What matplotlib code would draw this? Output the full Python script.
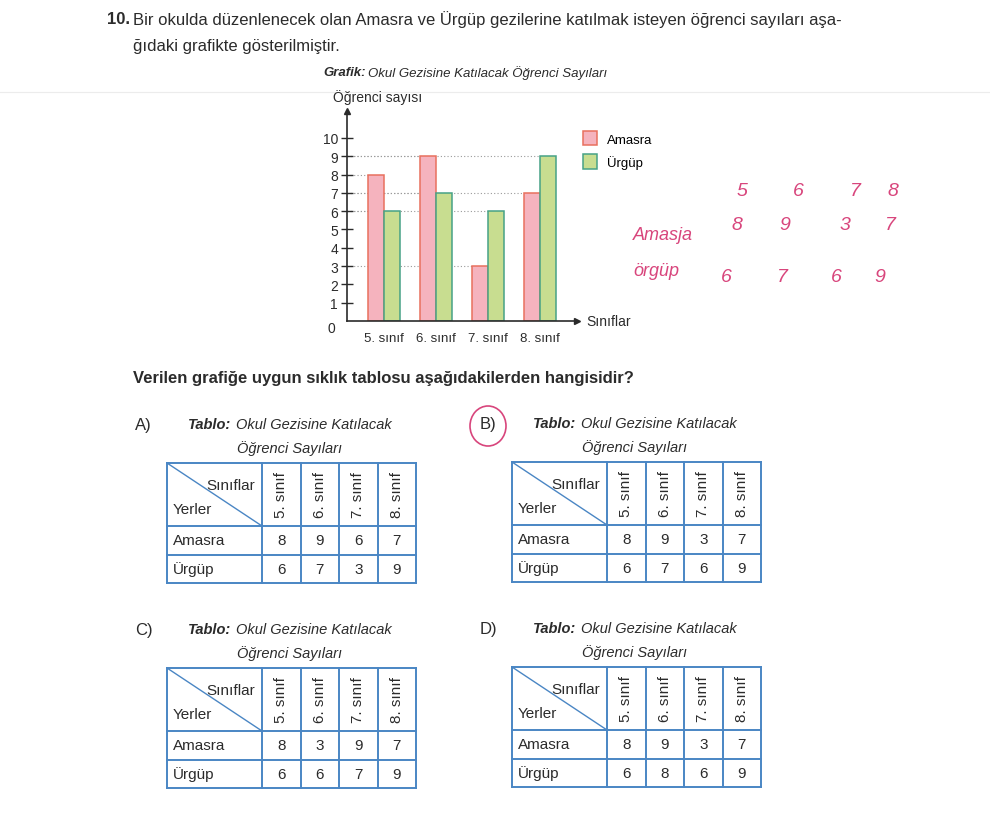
import matplotlib as mat
mat.use('Agg')
import matplotlib.pyplot as plt
from matplotlib.patches import Ellipse

plt.rcParams['font.family'] = ['Liberation Sans', 'DejaVu Sans']

W, H = 990, 828

# grafik verisi
siniflar = ['5. sınıf', '6. sınıf', '7. sınıf', '8. sınıf']
amasra = [8, 9, 3, 7]
urgup = [6, 7, 6, 9]
y_ticks = list(range(1, 11))

# seceneklerdeki tablolar (A, B, C, D)
secenekler = ['A)', 'B)', 'C)', 'D)']
tablo_amasra = [[8, 9, 6, 7], [8, 9, 3, 7], [8, 3, 9, 7], [8, 9, 3, 7]]
tablo_urgup = [[6, 7, 3, 9], [6, 7, 6, 9], [6, 6, 7, 9], [6, 8, 6, 9]]

# el yazisi notlar
not_sinif = ['5', '6', '7', '8']
not_amasra = ['8', '9', '3', '7']
not_urgup = ['6', '7', '6', '9']

PEMBE = '#f5b3be'
PEMBE_KENAR = '#e8705e'
YESIL = '#c8dd90'
YESIL_KENAR = '#46a286'
MAVI = '#4a86c4'
KALEM = '#d8457c'
KOYU = '#2b2b2b'


def tablo(page, x0, y0, harf, hx, ams, urg):
    cols = [x0, x0 + 95, x0 + 133.5, x0 + 172, x0 + 210.5, x0 + 249]
    rows = [y0, y0 + 63, y0 + 92, y0 + 120]
    for x in cols:
        page.plot([x, x], [rows[0], rows[-1]], color=MAVI, lw=1.4, solid_capstyle='projecting')
    for y in rows:
        page.plot([cols[0], cols[-1]], [y, y], color=MAVI, lw=1.4, solid_capstyle='projecting')
    page.plot([cols[0], cols[1]], [rows[0], rows[1]], color=MAVI, lw=1.0)
    page.text(cols[1] - 7, rows[0] + 22, 'Sınıflar', ha='right', va='center', fontsize=11, color=KOYU)
    page.text(cols[0] + 6, rows[0] + 46, 'Yerler', ha='left', va='center', fontsize=11, color=KOYU)
    page.text(cols[0] + 6, (rows[1] + rows[2]) / 2, 'Amasra', ha='left', va='center', fontsize=11, color=KOYU)
    page.text(cols[0] + 6, (rows[2] + rows[3]) / 2, 'Ürgüp', ha='left', va='center', fontsize=11, color=KOYU)
    for i, s in enumerate(siniflar):
        cx = (cols[i + 1] + cols[i + 2]) / 2
        page.text(cx, (rows[0] + rows[1]) / 2, s, rotation=90, ha='center', va='center', fontsize=11, color=KOYU)
        page.text(cx, (rows[1] + rows[2]) / 2, str(ams[i]), ha='center', va='center', fontsize=11, color=KOYU)
        page.text(cx, (rows[2] + rows[3]) / 2, str(urg[i]), ha='center', va='center', fontsize=11, color=KOYU)
    # baslik
    ty = y0 - 39
    page.text(hx, ty + 1, harf, ha='left', va='center', fontsize=12, color=KOYU)
    page.text(x0 + 21, ty, 'Tablo:', ha='left', va='center', fontsize=10.5,
              fontweight='bold', style='italic', color=KOYU)
    page.text(x0 + 69, ty, 'Okul Gezisine Katılacak', ha='left', va='center', fontsize=10.5,
              style='italic', color=KOYU)
    page.text(x0 + 123, ty + 24, 'Öğrenci Sayıları', ha='center', va='center', fontsize=10.5,
              style='italic', color=KOYU)


def main():
    fig = plt.figure(figsize=(9.9, 8.28), dpi=100)
    page = fig.add_axes([0, 0, 1, 1])
    page.set_xlim(0, W)
    page.set_ylim(H, 0)
    page.axis('off')

    # soru metni
    page.text(107, 20, '10.', ha='left', va='center', fontsize=12, fontweight='bold', color=KOYU)
    page.text(133, 20, 'Bir okulda düzenlenecek olan Amasra ve Ürgüp gezilerine katılmak isteyen öğrenci sayıları aşa-',
              ha='left', va='center', fontsize=12, color=KOYU)
    page.text(133, 47, 'ğıdaki grafikte gösterilmiştir.', ha='left', va='center', fontsize=12, color=KOYU)
    page.plot([0, W], [93, 93], color='#ececec', lw=0.8)

    page.text(323, 73, 'Grafik:', ha='left', va='center', fontsize=9.5, fontweight='bold', style='italic', color=KOYU)
    page.text(368, 73, 'Okul Gezisine Katılacak Öğrenci Sayıları', ha='left', va='center', fontsize=9.5,
              style='italic', color=KOYU)

    page.text(133, 379, 'Verilen grafiğe uygun sıklık tablosu aşağıdakilerden hangisidir?',
              ha='left', va='center', fontsize=12, fontweight='bold', color=KOYU)

    # tablolar
    tablo(page, 167, 464, secenekler[0], 135, tablo_amasra[0], tablo_urgup[0])
    tablo(page, 512, 463, secenekler[1], 480, tablo_amasra[1], tablo_urgup[1])
    tablo(page, 167, 669, secenekler[2], 135, tablo_amasra[2], tablo_urgup[2])
    tablo(page, 512, 668, secenekler[3], 480, tablo_amasra[3], tablo_urgup[3])
    page.add_patch(Ellipse((488, 427), 36, 40, fill=False, edgecolor=KALEM, lw=1.2))

    # el yazisi notlar
    for x, s in zip([742, 798, 855, 893], not_sinif):
        page.text(x, 192, s, ha='center', va='center', fontsize=14, color=KALEM, style='italic', fontweight='light')
    page.text(633, 236, 'Amasja', ha='left', va='center', fontsize=13, color=KALEM, style='italic')
    for x, s in zip([737, 785, 845, 890], not_amasra):
        page.text(x, 226, s, ha='center', va='center', fontsize=14, color=KALEM, style='italic')
    page.text(633, 272, 'örgüp', ha='left', va='center', fontsize=13, color=KALEM, style='italic')
    for x, s in zip([726, 782, 836, 880], not_urgup):
        page.text(x, 278, s, ha='center', va='center', fontsize=14, color=KALEM, style='italic')

    # grafik
    ax = fig.add_axes([347 / W, 1 - 322 / H, 230 / W, 210 / H])
    ax.patch.set_alpha(0)
    idx = list(range(len(siniflar)))
    w = 0.31
    xa = [i - w / 2 for i in idx]
    xu = [i + w / 2 for i in idx]
    ax.set_xlim(-0.71, 3.71)
    ax.set_ylim(0, 11.47)
    for x, v in zip(xa, amasra):
        ax.hlines(v, -0.71, x - w / 2, colors='#9a9a9a', linestyles=(0, (1, 2)), lw=0.8, zorder=1)
    for x, v in zip(xu, urgup):
        ax.hlines(v, -0.71, x - w / 2, colors='#9a9a9a', linestyles=(0, (1, 2)), lw=0.8, zorder=1)
    ax.bar(xa, amasra, w, color=PEMBE, edgecolor=PEMBE_KENAR, lw=1.1, label='Amasra', zorder=2)
    ax.bar(xu, urgup, w, color=YESIL, edgecolor=YESIL_KENAR, lw=1.1, label='Ürgüp', zorder=2)

    for s in ['top', 'right']:
        ax.spines[s].set_visible(False)
    for s in ['left', 'bottom']:
        ax.spines[s].set_color(KOYU)
        ax.spines[s].set_linewidth(1.2)
    ax.plot(1, 0, '>', color=KOYU, ms=4, transform=ax.transAxes, clip_on=False)
    ax.plot(0, 1, '^', color=KOYU, ms=4, transform=ax.transAxes, clip_on=False)

    ax.set_yticks(y_ticks)
    ax.set_yticklabels([str(t) for t in y_ticks])
    ax.tick_params(axis='y', direction='inout', length=9, width=1, colors=KOYU, labelsize=10, pad=2)
    ax.set_xticks(idx)
    ax.set_xticklabels(siniflar)
    ax.tick_params(axis='x', length=0, labelsize=9.5, colors=KOYU, pad=8)
    ax.text(-0.05, 0, '0', transform=ax.transAxes, ha='right', va='top', fontsize=10, color=KOYU)
    ax.text(-0.061, 1.071, 'Öğrenci sayısı', transform=ax.transAxes, ha='left', va='center', fontsize=10, color=KOYU)
    ax.text(1.04, 0, 'Sınıflar', transform=ax.transAxes, ha='left', va='center', fontsize=10, color=KOYU)

    ax.legend(loc='upper left', bbox_to_anchor=(1.026, 0.905), frameon=False, fontsize=9.5,
              handlelength=1.1, handleheight=1.3, handletextpad=0.7, labelspacing=0.65,
              borderpad=0, borderaxespad=0)

    fig.savefig('out.png', dpi=100, facecolor='white')


if __name__ == '__main__':
    main()
